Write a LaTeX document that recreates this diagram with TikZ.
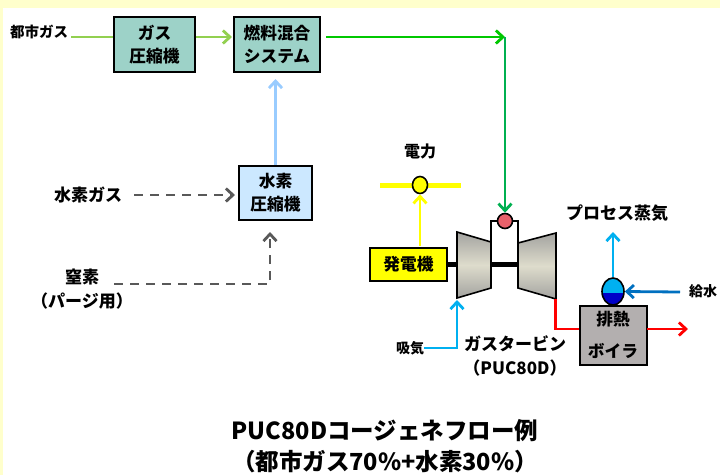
\documentclass[tikz,border=0pt]{standalone}
\usepackage{xcolor}
\usepackage{fontspec}
\setmainfont{Noto Sans CJK JP}
\usepackage{tikz}
\usetikzlibrary{arrows.meta, positioning, calc, shapes.geometric}
\definecolor{pageyellow}{HTML}{FFFFCC}
\definecolor{gasteal}{HTML}{9DD2C8}
\definecolor{hydrogenblue}{HTML}{CCE8FF}
\definecolor{citygreen}{HTML}{92D050}
\definecolor{fuelgreen}{HTML}{00C800}
\definecolor{burnergreen}{HTML}{00B050}
\definecolor{palearrow}{HTML}{99CCFF}
\definecolor{dashgray}{HTML}{595959}
\definecolor{genyellow}{HTML}{FFFF00}
\definecolor{skyblue}{HTML}{00B0F0}
\definecolor{feedblue}{HTML}{0070C0}
\definecolor{deepblue}{HTML}{0000C8}
\definecolor{boilergray}{HTML}{B3AFAF}
\definecolor{burnerred}{HTML}{E9616B}
\definecolor{casinggray}{HTML}{A3A3A0}
\definecolor{casingmid}{HTML}{DEDCCC}
\tikzset{
    machine/.style={draw=black, line width=2.4pt, align=center, inner sep=0pt, font=\fontsize{16.7}{23}\selectfont\bfseries},
    label/.style={inner sep=0pt, align=center, font=\fontsize{17}{24}\selectfont\bfseries},
    smalllabel/.style={label, font=\fontsize{14}{20}\selectfont\bfseries},
    flow/.style={line width=2.8pt, -{Straight Barb[length=7pt, width=13pt, line width=2.8pt]}},
    plainflow/.style={line width=2.8pt},
    gasflow/.style={flow, dashgray, line width=2.4pt, dash pattern=on 9pt off 7pt},
    casing/.style={draw=black, line width=1.6pt, top color=casinggray, bottom color=casinggray, middle color=casingmid},
}

\begin{document}
\begin{tikzpicture}[x=1pt, y=-1pt]
    % ===== Page =====
    \fill[pageyellow] (0,0) rectangle (720,475);
    \fill[white] (3,8) rectangle (720,475);

    % ===== Fuel line =====
    \node[machine, fill=gasteal, minimum width=81pt, minimum height=55pt] (gascomp) at (154.5,44.5) {ガス\\圧縮機};
    \node[machine, fill=gasteal, minimum width=86pt, minimum height=55pt] (mixer) at (277,44.5) {燃料混合\\システム};
    \node[machine, fill=hydrogenblue, minimum width=73pt, minimum height=54pt] (h2comp) at (275.5,193) {水素\\圧縮機};
    \node[smalllabel, font=\fontsize{14.5}{20}\selectfont\bfseries] (citygas) at (39,32) {都市ガス};
    \node[label] (h2gas) at (88,195) {水素ガス};
    \node[label] (nitrogen) at (82,289) {窒素\\（パージ用）};

    \coordinate (citystart) at (71,37);
    \coordinate (citymix) at (232,37);
    \coordinate (citygasout) at (196,37);
    \coordinate (citygasin) at (113,37);
    \coordinate (mixerbelow) at (275.5,79);
    \coordinate (h2start) at (134,195);
    \coordinate (h2end) at (235,195);
    \coordinate (n2start) at (114,284);
    \coordinate (n2corner) at (270,284);
    \coordinate (n2end) at (270,232);
    \draw[plainflow, citygreen] (citystart) -- (citygasin);
    \draw[flow, citygreen] (citygasout) -- (citymix);
    \draw[flow, palearrow] (h2comp.north) -- (mixerbelow);
    \draw[gasflow] (h2start) -- (h2end);
    \draw[gasflow] (n2start) -- (n2corner) -- (n2end);

    % ===== Gas turbine =====
    \node[machine, fill=genyellow, minimum width=77pt, minimum height=33pt] (generator) at (408.5,264.5) {発電機};
    \coordinate (shaftend) at (518,264.5);
    \draw[line width=5pt] (generator.east) -- (shaftend);
    \draw[line width=2pt] (491,242) -- (491,221) -- (518,221) -- (518,243);
    \path[casing] (457,232) -- (491,242) -- (491,288) -- (457,298) -- cycle;
    \path[casing] (518,243) -- (556,233) -- (556,299) -- (518,288) -- cycle;
    \node[circle, draw=black, line width=1.6pt, fill=burnerred, minimum size=15pt, inner sep=0pt] (burner) at (505,221) {};

    \coordinate (fuelstart) at (326,37);
    \coordinate (fuelcorner) at (505,37);
    \draw[flow, fuelgreen] (fuelstart) -- (fuelcorner);
    \draw[flow, burnergreen, line width=2.4pt] (fuelcorner) -- (burner.north);

    % ===== Power =====
    \node[label, font=\fontsize{16}{24}\selectfont\bfseries] (power) at (420,151) {電力};
    \coordinate (busleft) at (380,185);
    \coordinate (busright) at (461,185);
    \coordinate (genout) at (420,246);
    \draw[line width=5pt, genyellow] (busleft) -- (busright);
    \node[ellipse, draw=black, line width=1.6pt, fill=genyellow, minimum width=15pt, minimum height=17pt, inner sep=0pt] (powerbus) at (420,185) {};
    \draw[flow, genyellow] (genout) -- (powerbus.south);

    % ===== Intake =====
    \node[smalllabel] (intake) at (410,348) {吸気};
    \coordinate (intakecorner) at (457,348);
    \coordinate (intakeend) at (457,300);
    \draw[flow, skyblue] (intake.east) -- (intakecorner) -- (intakeend);
    \node[label] (gasturbine) at (515,356) {ガスタービン\\（PUC80D）};

    % ===== Boiler =====
    \node[machine, fill=boilergray, line width=2pt, minimum width=67pt, minimum height=59pt, font=\fontsize{16.7}{32}\selectfont\bfseries] (boiler) at (613,335) {排熱\\ボイラ};
    \fill[skyblue] (613,291.5) ellipse [x radius=11, y radius=13.5];
    \begin{scope}
        \clip (600,293) rectangle (626,310);
        \fill[deepblue] (613,291.5) ellipse [x radius=11, y radius=13.5];
    \end{scope}
    \node[ellipse, draw=black, line width=1.6pt, minimum width=22pt, minimum height=27pt, inner sep=0pt] (drum) at (613,291.5) {};
    \node[label] (steam) at (617,213) {プロセス蒸気};
    \node[smalllabel] (feedwater) at (703,291) {給水};
    \coordinate (steamend) at (613,232);
    \coordinate (feedstart) at (680,292);
    \coordinate (exhauststart) at (555.5,299);
    \coordinate (exhaustin) at (579,329);
    \coordinate (exhaustout) at (647,329);
    \coordinate (exhaustend) at (688,329);
    \draw[flow, skyblue] (drum.north) -- (steamend);
    \draw[flow, feedblue] (feedstart) -- (drum.east);
    \draw[plainflow, red] (exhauststart) |- (exhaustin);
    \draw[flow, red] (exhaustout) -- (exhaustend);

    % ===== Title =====
    \node[label, font=\fontsize{23.5}{31}\selectfont\bfseries] (title) at (385,446) {PUC80Dコージェネフロー例\\（都市ガス70\%+水素30\%）};
\end{tikzpicture}
\end{document}
